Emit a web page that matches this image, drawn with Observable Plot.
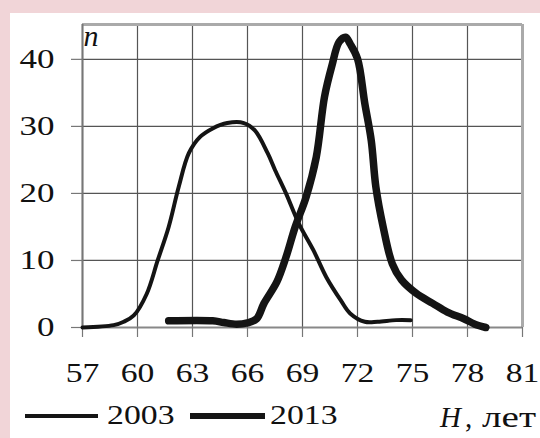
<!DOCTYPE html>
<html><head><meta charset="utf-8">
<script src="https://cdn.jsdelivr.net/npm/d3@7"></script>
<script src="https://cdn.jsdelivr.net/npm/@observablehq/plot@0.6"></script>
<style>
html,body{margin:0;padding:0;}
body{width:540px;height:438px;background:#f1d5d8;position:relative;overflow:hidden;font-family:"Liberation Serif","Times New Roman",serif;color:#111;}
#panel{position:absolute;left:10px;top:13px;right:0;bottom:0;background:#fff;}
#chart{position:absolute;left:0;top:0;}
#legend{position:absolute;left:0;top:395px;width:540px;height:43px;}
.sw{position:absolute;background:#151515;}
.lt{position:absolute;white-space:nowrap;line-height:1;transform-origin:left center;}
</style></head>
<body>
<div id="panel"></div>
<div id="chart"></div>
<div id="legend"></div>
<script>
// Data
const seriesNames = ["2003", "2013"];
const h2003 = [57, 58.7, 59.25, 59.8, 60.5, 61.1, 61.7, 62.25, 62.8, 63.4, 64.1, 64.9, 65.8, 66.4, 67.1, 67.5, 68.1, 68.8, 69.6, 70.3, 71.1, 71.6, 72.4, 73.1, 74.1, 74.9];
const n2003 = [0, 0.35, 0.85, 1.8, 5, 10, 15, 21, 26, 28.4, 29.7, 30.5, 30.5, 29.4, 26, 23.5, 20, 15.5, 11.5, 7.5, 4, 2.1, 0.85, 0.85, 1.1, 1.1];
const h2013 = [61.7, 64.1, 64.7, 65.4, 66.0, 66.5, 66.9, 67.6, 68.1, 68.6, 69.2, 69.75, 70.2, 70.6, 71.0, 71.35, 71.6, 72.0, 72.4, 72.75, 73.0, 73.4, 73.9, 74.4, 75.2, 76.1, 76.9, 77.8, 78.4, 79.0];
const n2013 = [1.0, 1.0, 0.75, 0.5, 0.7, 1.3, 3.6, 6.8, 10.5, 15, 19.5, 25.4, 34.4, 39, 42.6, 43.3, 42.3, 40.1, 33.4, 27.9, 21, 15, 9.5, 7.1, 5.1, 3.6, 2.3, 1.3, 0.5, 0];
const xTicks = [57, 60, 63, 66, 69, 72, 75, 78, 81];
const yTicks = [0, 10, 20, 30, 40];
const yLabel = "n";
const xLabelVar = "H";
const xLabelUnit = "лет";

const d2003 = h2003.map((h, i) => ({h, n: n2003[i]}));
const d2013 = h2013.map((h, i) => ({h, n: n2013[i]}));
const xMin = xTicks[0], xMax = xTicks[xTicks.length - 1];
const yTop = 45.2;

const chart = Plot.plot({
  width: 540,
  height: 395,
  marginLeft: 82,
  marginRight: 18,
  marginTop: 24,
  marginBottom: 68,
  style: {fontFamily: "Liberation Serif", background: "transparent", color: "#111"},
  x: {domain: [xMin, xMax]},
  y: {domain: [0, yTop]},
  marks: [
    Plot.gridX(xTicks, {stroke: "#555", strokeOpacity: 1, strokeWidth: 1.2}),
    Plot.gridY(yTicks, {stroke: "#555", strokeOpacity: 1, strokeWidth: 1.2}),
    Plot.ruleY([yTop], {stroke: "#aaa", strokeWidth: 3}),
    Plot.ruleX([xMax], {stroke: "#aaa", strokeWidth: 3}),
    Plot.ruleX([xMin], {stroke: "#777", strokeWidth: 2}),
    Plot.ruleY([0], {stroke: "#888", strokeWidth: 2}),
    Plot.axisX(xTicks, {tickSize: 10, tickPadding: 25, fontSize: 28, stroke: "#777", strokeWidth: 1.2, label: null, tickFormat: d => String(d), fill: "#111"}),
    Plot.axisY(yTicks, {tickSize: 11, tickPadding: 17, fontSize: 28, stroke: "#777", strokeWidth: 1.2, label: null, tickFormat: d => String(d), fill: "#111"}),
    Plot.text([yLabel], {frameAnchor: "top-left", text: d => d, dx: 1, dy: 0, lineAnchor: "top", textAnchor: "start", fontSize: 30, fontStyle: "italic", fill: "#111"}),
    Plot.line(d2003, {x: "h", y: "n", stroke: "#141414", strokeWidth: 4, curve: "catmull-rom", strokeLinejoin: "round"}),
    Plot.line(d2013, {x: "h", y: "n", stroke: "#141414", strokeWidth: 7.5, curve: "catmull-rom", strokeLinejoin: "round"})
  ]
});
document.getElementById("chart").appendChild(chart);

// horizontal stretch of tick labels like the reference typeface
function stretch(sel, s) {
  chart.querySelectorAll(sel).forEach(t => {
    const x = +t.getAttribute("x") || 0;
    const tr = t.getAttribute("transform") || "";
    t.setAttribute("transform", `${tr} translate(${x},0) scale(${s},1) translate(${-x},0)`);
  });
}
stretch('g[aria-label="x-axis tick label"] text', 1.2);
stretch('g[aria-label="y-axis tick label"] text', 1.25);

// Legend and x label below the plot
const legend = document.getElementById("legend");
const items = [
  {name: seriesNames[0], left: 25, width: 73, top: 19, h: 4, tx: 107},
  {name: seriesNames[1], left: 190, width: 75, top: 18, h: 6, tx: 270}
];
items.forEach(it => {
  const sw = document.createElement("div");
  sw.className = "sw";
  Object.assign(sw.style, {left: it.left + "px", top: it.top + "px", width: it.width + "px", height: it.h + "px"});
  legend.appendChild(sw);
  const t = document.createElement("span");
  t.className = "lt";
  t.textContent = it.name;
  Object.assign(t.style, {left: it.tx + "px", top: "6.5px", fontSize: "27px", transform: "scaleX(1.25)"});
  legend.appendChild(t);
});
const hv = document.createElement("span");
hv.className = "lt";
hv.innerHTML = `<i>${xLabelVar}</i>`;
Object.assign(hv.style, {left: "440px", top: "7.5px", fontSize: "29px"});
legend.appendChild(hv);
const cm = document.createElement("span");
cm.className = "lt";
cm.textContent = ",";
Object.assign(cm.style, {left: "465px", top: "7.5px", fontSize: "29px"});
legend.appendChild(cm);
const un = document.createElement("span");
un.className = "lt";
un.textContent = xLabelUnit;
Object.assign(un.style, {left: "482px", top: "7.5px", fontSize: "29px", transform: "scaleX(1.35)"});
legend.appendChild(un);
</script>
</body></html>
